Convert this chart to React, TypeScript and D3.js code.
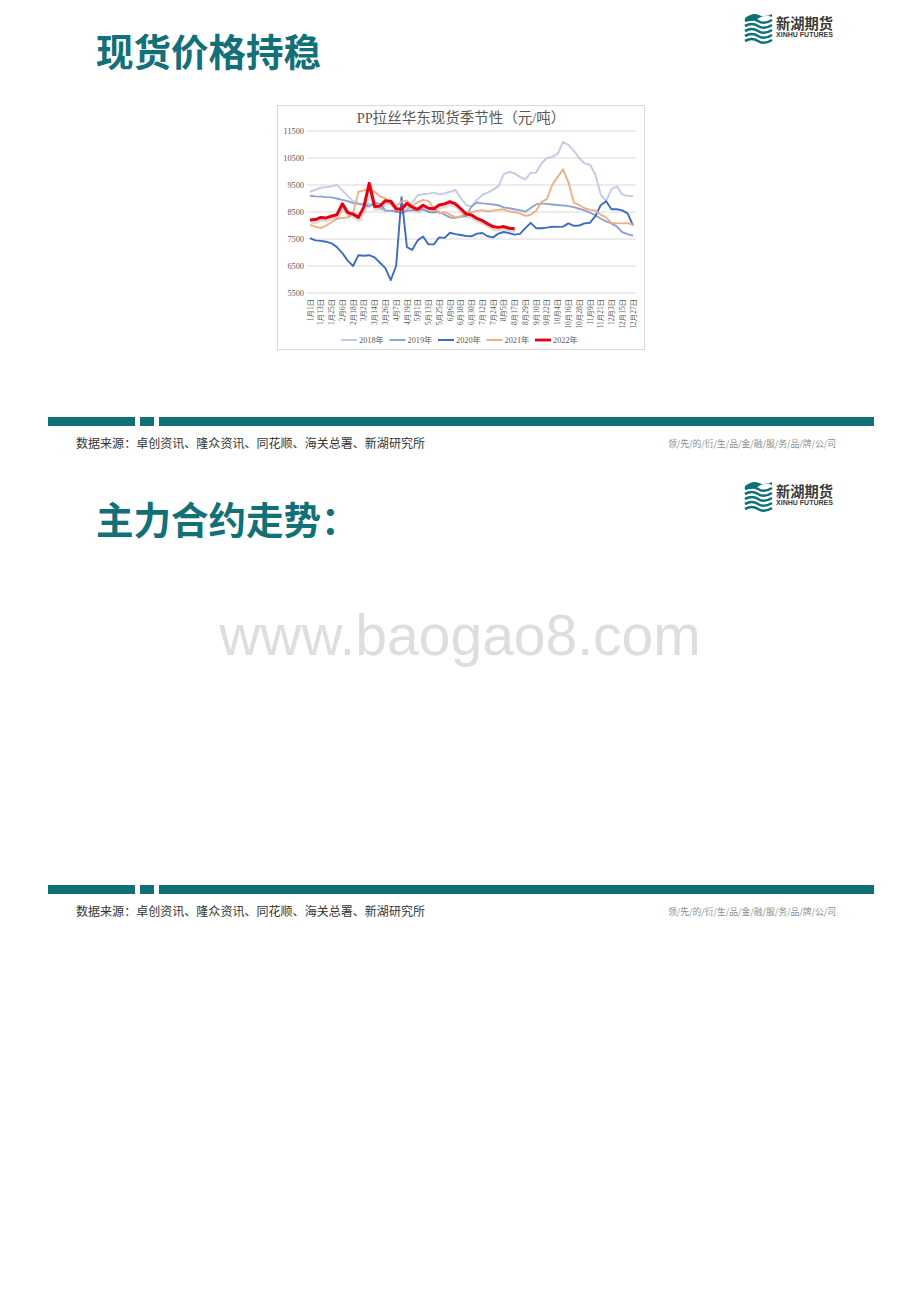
import React from "react";
import * as d3 from "d3";

const STEP_DAYS = 6;
const xTickLabels = [
  "1月1日", "1月13日", "1月25日", "2月6日", "2月18日", "3月2日", "3月14日", "3月26日",
  "4月7日", "4月19日", "5月1日", "5月13日", "5月25日", "6月6日", "6月18日", "6月30日",
  "7月12日", "7月24日", "8月5日", "8月17日", "8月29日", "9月10日", "9月22日", "10月4日",
  "10月16日", "10月28日", "11月9日", "11月21日", "12月3日", "12月15日", "12月27日",
];
const yTicks = [5500, 6500, 7500, 8500, 9500, 10500, 11500];

const s2018 = [
  9250, 9320, 9400, 9420, 9450, 9500, 9300, 9100, 8900, 8820, 8760, 8800, 8720, 8650, 8530, 8560,
  8520, 8470, 8550, 8850, 9120, 9160, 9180, 9220, 9150, 9190, 9250, 9320, 9020, 8760, 8700, 8950,
  9130, 9220, 9330, 9450, 9900, 9990, 9930, 9800, 9700, 9950, 9960, 10300, 10500, 10540, 10650, 11100,
  10980, 10780, 10500, 10300, 10250, 9900, 9150, 8900, 9350, 9450, 9150, 9100, 9080,
];
const s2019 = [
  9100, 9080, 9070, 9050, 9040, 9000, 8950, 8900, 8830, 8800, 8780, 8700, 8850, 8800, 8560, 8540,
  8520, 8450, 8550, 8560, 8580, 8600, 8500, 8480, 8500, 8400, 8300, 8280, 8320, 8350, 8700, 8850,
  8820, 8800, 8780, 8750, 8670, 8640, 8600, 8570, 8510, 8650, 8780, 8820, 8800, 8780, 8760, 8740,
  8720, 8680, 8620, 8560, 8480, 8380, 8260, 8150, 8080, 7960, 7750, 7680, 7620,
];
const s2020 = [
  7530, 7450, 7430, 7400, 7340, 7200, 6980, 6700, 6500, 6900, 6880, 6900, 6820, 6620, 6420, 5980,
  6500, 9050, 7200, 7100, 7450, 7590, 7300, 7300, 7560, 7540, 7730, 7680, 7650, 7610, 7600, 7700,
  7720, 7600, 7560, 7700, 7760, 7720, 7660, 7690, 7900, 8100, 7900, 7900, 7920, 7960, 7950, 7960,
  8080, 7990, 8000, 8080, 8100, 8350, 8750, 8900, 8600, 8600, 8560, 8450, 8000,
];
const s2021 = [
  8020, 7960, 7900, 8000, 8120, 8250, 8280, 8300, 8450, 9250, 9300, 9330, 9250, 9080, 9000, 8780,
  8700, 8880, 8930, 8720, 8860, 8950, 8900, 8640, 8450, 8500, 8400, 8300, 8350, 8450, 8500, 8540,
  8570, 8520, 8550, 8580, 8600, 8520, 8500, 8450, 8360, 8400, 8550, 8880, 8980, 9500, 9800, 10080,
  9600, 8850, 8760, 8640, 8580, 8560, 8400, 8300, 8100, 8080, 8080, 8090, 8030,
];
const s2022 = [
  8200, 8220, 8300, 8280, 8350, 8400, 8800, 8480, 8420, 8300, 8680, 9560, 8700, 8720, 8920, 8900,
  8620, 8600, 8820, 8680, 8600, 8750, 8640, 8620, 8760, 8800, 8880, 8800, 8620, 8430, 8390, 8260,
  8180, 8060, 7960, 7930, 7960, 7900, 7880,
];

const seriesNames = ["2018年", "2019年", "2020年", "2021年", "2022年"];
const seriesData = [s2018, s2019, s2020, s2021, s2022];
const seriesColors = ["#c3cae6", "#8fa2d4", "#3e6cbf", "#f2b082", "#e60012"];

const chartTitle = "PP拉丝华东现货季节性（元/吨）";
const sourceText = "数据来源：卓创资讯、隆众资讯、同花顺、海关总署、新湖研究所";
const sloganText = "领/先/的/衍/生/品/金/融/服/务/品/牌/公/司";
const slideTitles = ["现货价格持稳", "主力合约走势："];

const TEAL = "#0f7078";
const CJK = "'Noto Sans CJK SC', 'Noto Sans', sans-serif";
const SERIF = "'Liberation Serif', 'Noto Sans CJK SC', serif";

function Logo({ y }: { y: number }) {
  const x0 = 745;
  const waves = [0, 5, 10, 15, 20];
  return (
    <g>
      <path d={`M${x0},${y + 5} Q${x0 + 8},${y - 1} ${x0 + 14},${y + 2} T${x0 + 27},${y + 1} L${x0 + 27},${y + 4} Q${x0 + 20},${y + 1} ${x0 + 14},${y + 5} T${x0},${y + 8} Z`} fill={TEAL} />
      {waves.map((w) => (
        <path
          key={w}
          d={`M${x0},${y + 8 + w} Q${x0 + 7},${y + 4 + w} ${x0 + 13},${y + 8 + w} T${x0 + 27},${y + 7 + w}`}
          fill="none"
          stroke={TEAL}
          strokeWidth={2.6}
        />
      ))}
      <text x={776} y={y + 16} fontFamily={CJK} fontWeight={700} fontSize={14.5} fill="#3b3b3b" textLength={57} lengthAdjust="spacingAndGlyphs">
        新湖期货
      </text>
      <text x={776} y={y + 24} fontFamily="'Liberation Sans', Arial, sans-serif" fontWeight={700} fontSize={6.3} fill="#3b3b3b" textLength={57} lengthAdjust="spacingAndGlyphs">
        XINHU FUTURES
      </text>
    </g>
  );
}

function Footer({ y }: { y: number }) {
  return (
    <g>
      <rect x={48} y={y} width={87} height={9} fill={TEAL} />
      <rect x={140} y={y} width={14} height={9} fill={TEAL} />
      <rect x={159} y={y} width={715} height={9} fill={TEAL} />
      <text x={76} y={y + 31} fontFamily={CJK} fontSize={12} fill="#333" textLength={349} lengthAdjust="spacingAndGlyphs">
        {sourceText}
      </text>
      <text x={668} y={y + 30} fontFamily={CJK} fontSize={9} fill="#8c8c8c" textLength={168} lengthAdjust="spacingAndGlyphs">
        {sloganText}
      </text>
    </g>
  );
}

function Chart() {
  const x = d3.scaleLinear().domain([0, 360]).range([310, 633]);
  const y = d3.scaleLinear().domain([5500, 11500]).range([293, 131]);
  const line = d3
    .line<number>()
    .x((_, i) => x(i * STEP_DAYS))
    .y((v) => y(v));

  return (
    <g>
      <rect x={277.5} y={105.5} width={367} height={244} fill="#fff" stroke="#d9d9d9" />
      <text x={461} y={123} textAnchor="middle" fontFamily={SERIF} fontSize={14.5} fill="#595959">
        {chartTitle}
      </text>
      {yTicks.map((t) => (
        <g key={t}>
          <line x1={307} x2={636} y1={y(t)} y2={y(t)} stroke="#d9d9d9" strokeWidth={1} />
          <text x={304} y={y(t) + 3} textAnchor="end" fontFamily={SERIF} fontSize={8.3} fill="#595959">
            {t}
          </text>
        </g>
      ))}
      {xTickLabels.map((lab, i) => {
        const px = x(i * 12) + 2.6;
        return (
          <text
            key={lab}
            transform={`translate(${px},${299}) rotate(-90)`}
            textAnchor="end"
            fontFamily={SERIF}
            fontSize={7.4}
            fill="#595959"
          >
            {lab}
          </text>
        );
      })}
      {seriesData.map((s, i) => {
        const d = line(s) || "";
        if (i === 4) {
          return (
            <g key={i}>
              <path d={d} fill="none" stroke="rgba(120,80,80,0.22)" strokeWidth={5} transform="translate(0.8,1.6)" strokeLinejoin="round" />
              <path d={d} fill="none" stroke={seriesColors[i]} strokeWidth={3} strokeLinejoin="round" />
            </g>
          );
        }
        return <path key={i} d={d} fill="none" stroke={seriesColors[i]} strokeWidth={1.9} strokeLinejoin="round" />;
      })}
      {seriesNames.map((n, i) => {
        const lx = 341 + i * 48.5;
        return (
          <g key={n}>
            <line x1={lx} x2={lx + 16} y1={340} y2={340} stroke={seriesColors[i]} strokeWidth={i === 4 ? 2.8 : 2} />
            <text x={lx + 18} y={343} fontFamily={SERIF} fontSize={8.3} fill="#595959">
              {n}
            </text>
          </g>
        );
      })}
    </g>
  );
}

export default function App() {
  return (
    <svg
      width={920}
      height={1302}
      viewBox="0 0 920 1302"
      style={{ position: "absolute", left: 0, top: 0, background: "#fff" }}
    >
      <rect x={0} y={0} width={920} height={1302} fill="#fff" />
      <text x={96} y={66} fontFamily={CJK} fontWeight={700} fontSize={37.5} fill="#127079">
        {slideTitles[0]}
      </text>
      <Logo y={13} />
      <Chart />
      <Footer y={417} />
      <text x={96} y={534} fontFamily={CJK} fontWeight={700} fontSize={37.5} fill="#127079">
        {slideTitles[1]}
      </text>
      <Logo y={481} />
      <text x={460} y={655} textAnchor="middle" fontFamily="'Liberation Sans', Arial, sans-serif" fontSize={57} fill="#dedede">
        www.baogao8.com
      </text>
      <Footer y={885} />
    </svg>
  );
}
